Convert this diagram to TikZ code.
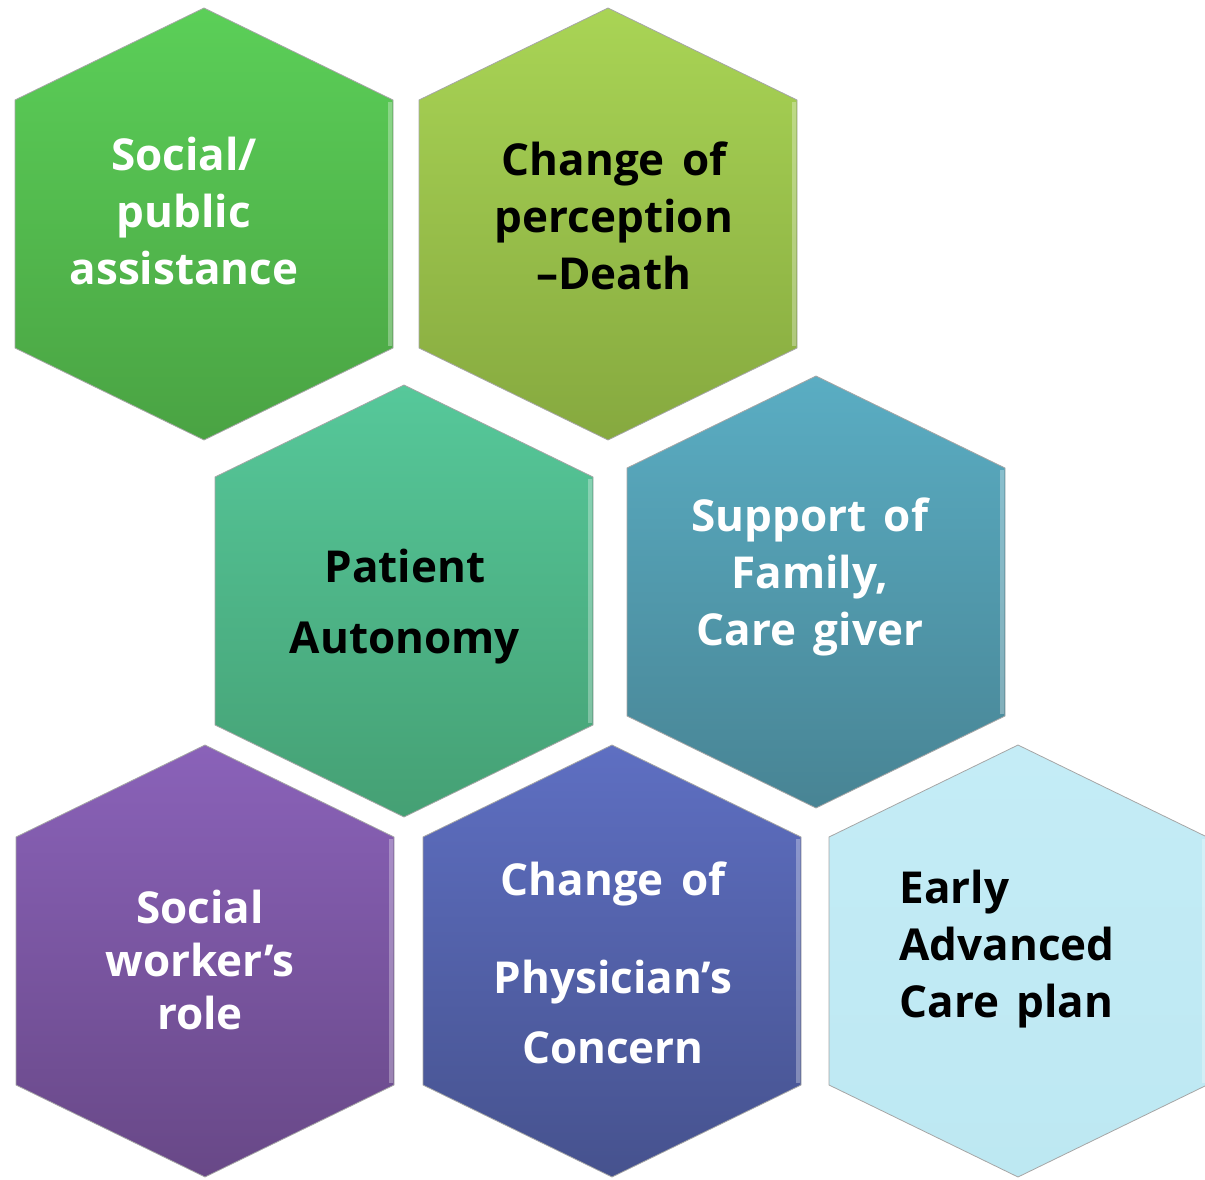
\documentclass[tikz,border=0pt]{standalone}
\usepackage{fontspec}
\setmainfont[WordSpace=1.5]{Open Sans}
\usepackage{tikz}
\usetikzlibrary{calc}

\definecolor{socialtop}{HTML}{5BCF58}
\definecolor{socialbot}{HTML}{4AA343}
\definecolor{deathtop}{HTML}{A9D455}
\definecolor{deathbot}{HTML}{86A93F}
\definecolor{autotop}{HTML}{56C89A}
\definecolor{autobot}{HTML}{45A074}
\definecolor{familytop}{HTML}{5AADC3}
\definecolor{familybot}{HTML}{488494}
\definecolor{workertop}{HTML}{8A62B9}
\definecolor{workerbot}{HTML}{684887}
\definecolor{physictop}{HTML}{5E6FC2}
\definecolor{physicbot}{HTML}{46528E}
\definecolor{plantop}{HTML}{C4ECF6}
\definecolor{planbot}{HTML}{BDE8F2}

\tikzset{
  hexcell/.style={draw=black!35, line width=0.8pt},
  hexlabel/.style={font=\fontsize{44}{57}\selectfont\bfseries, align=center},
}

\begin{document}
\begin{tikzpicture}[x=1pt,y=-1pt]
\useasboundingbox (0,0) rectangle (1205,1180);
% the seven cells
\foreach \cx/\cy/\ctop/\cbot in {204/224/socialtop/socialbot, 608/224/deathtop/deathbot,
    404/601/autotop/autobot, 816/592/familytop/familybot,
    205/961/workertop/workerbot, 612/961/physictop/physicbot, 1018/961/plantop/planbot}
{
  \draw[hexcell, top color=\ctop, bottom color=\cbot, shift={(\cx,\cy)}]
    (0,-216) -- (189,-124) -- (189,124) -- (0,216) -- (-189,124) -- (-189,-124) -- cycle;
  \draw[white, opacity=.3, line width=4pt, shift={(\cx,\cy)}] (186,-122) -- (186,122);
}
% labels
\node[hexlabel, text=white] (socpub) at (184,211) {Social/\\public\\assistance};
\node[hexlabel] (perception) at (614,216) {Change of\\perception\\–Death};
\node[hexlabel] (autonomy) at (405,607) {Patient\\[14pt]Autonomy};
\node[hexlabel, text=white] (family) at (810,577) {Support of\\Family,\\Care giver};
\node[hexlabel, text=white] (worker) at (200,960) {Social\\[-4pt]worker’s\\[-4pt]role};
\node[hexlabel, text=white] (concern) at (613,963) {Change of\\[41pt]Physician’s\\[13pt]Concern};
\node[hexlabel, align=left, anchor=west] (acp) at (896,949) {Early\\Advanced\\Care plan};
\end{tikzpicture}
\end{document}
